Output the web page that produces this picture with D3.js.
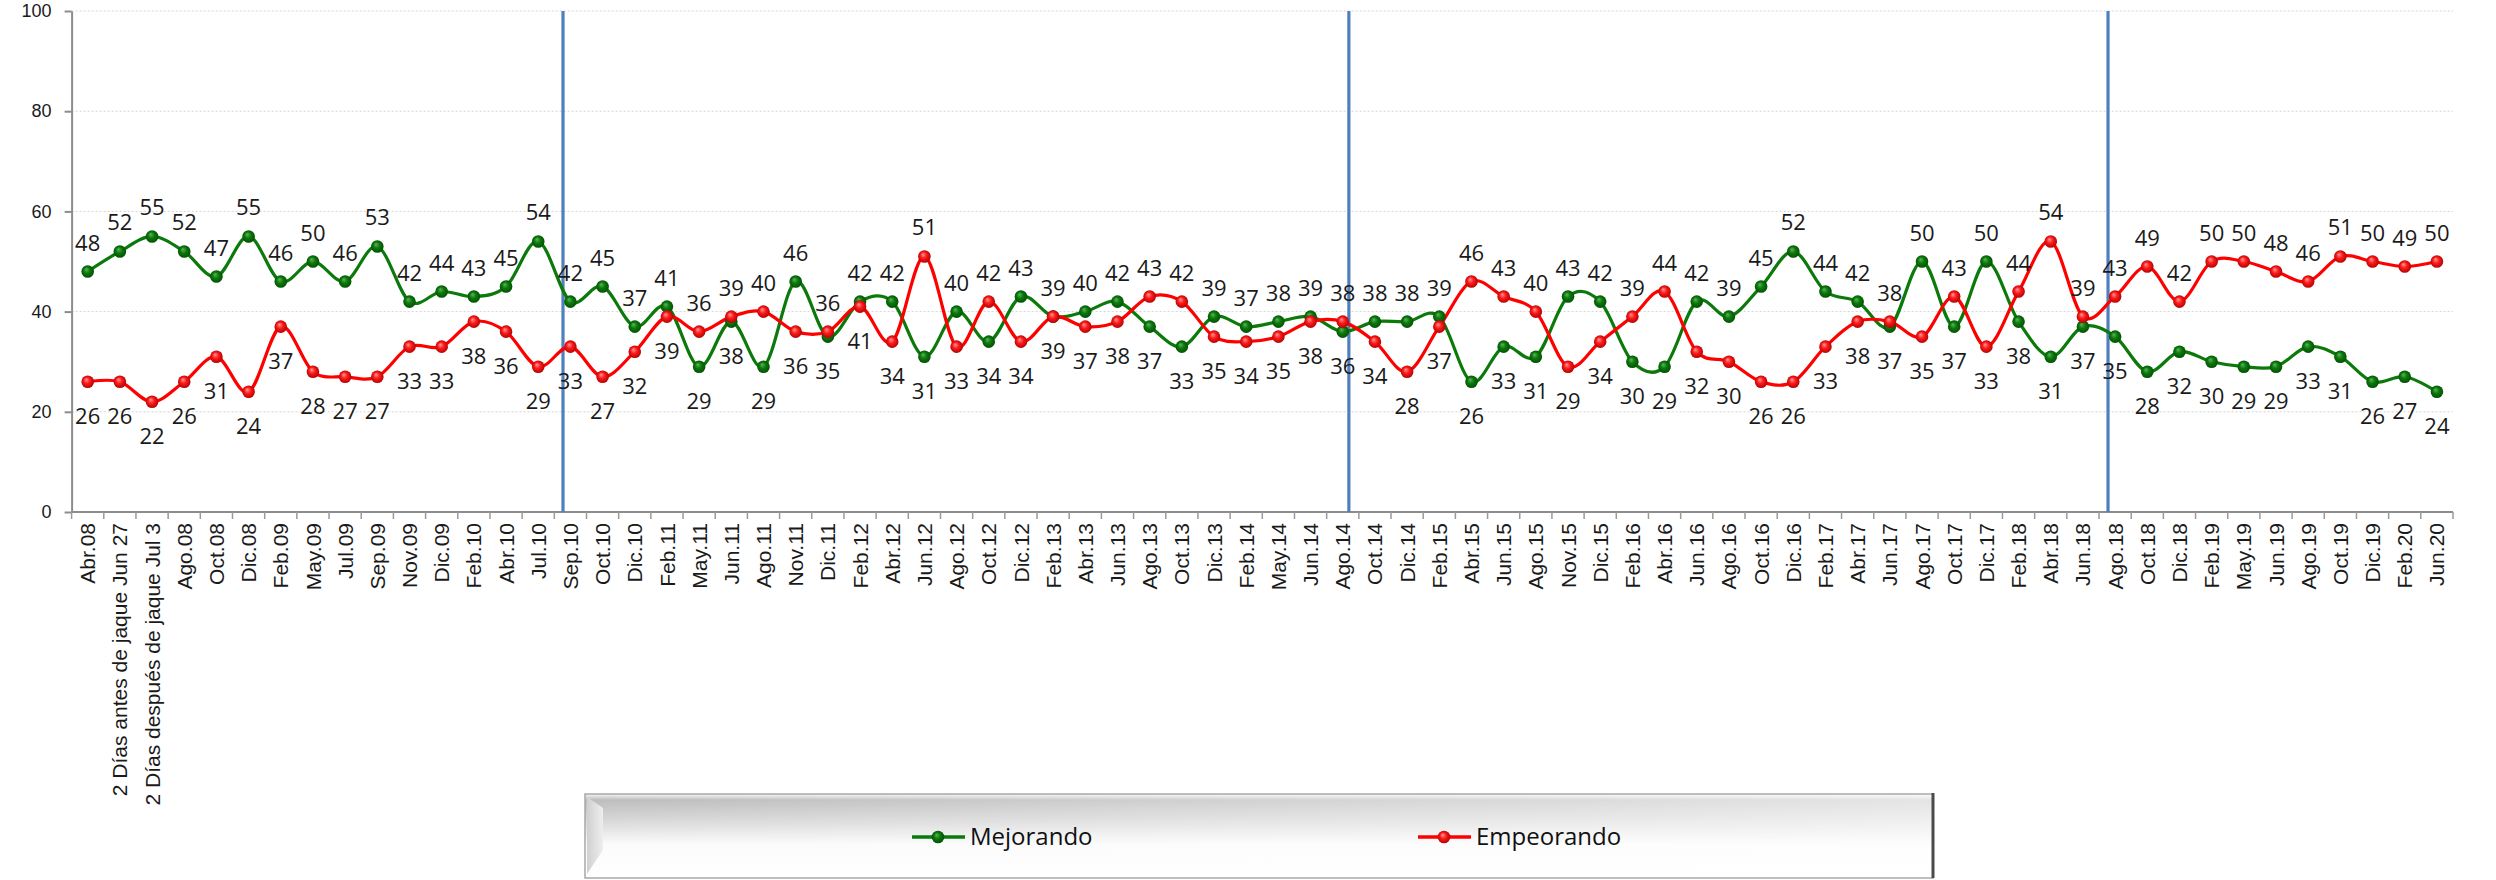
<!DOCTYPE html>
<html>
<head>
<meta charset="utf-8">
<script src="https://cdn.jsdelivr.net/npm/d3@7"></script>
<style>
  body { margin: 0; background: #fff; }
  svg { display: block; font-family: "Open Sans", sans-serif; }
</style>
</head>
<body>
<div id="chart"></div>
<script>
// categories along the x axis
const categories = [
  "Abr.08", "2 Días antes de jaque Jun 27", "2 Días después de jaque Jul 3", "Ago.08", "Oct.08", "Dic.08",
  "Feb.09", "May.09", "Jul.09", "Sep.09", "Nov.09", "Dic.09",
  "Feb.10", "Abr.10", "Jul.10", "Sep.10", "Oct.10", "Dic.10",
  "Feb.11", "May.11", "Jun.11", "Ago.11", "Nov.11", "Dic.11",
  "Feb.12", "Abr.12", "Jun.12", "Ago.12", "Oct.12", "Dic.12",
  "Feb.13", "Abr.13", "Jun.13", "Ago.13", "Oct.13", "Dic.13",
  "Feb.14", "May.14", "Jun.14", "Ago.14", "Oct.14", "Dic.14",
  "Feb.15", "Abr.15", "Jun.15", "Ago.15", "Nov.15", "Dic.15",
  "Feb.16", "Abr.16", "Jun.16", "Ago.16", "Oct.16", "Dic.16",
  "Feb.17", "Abr.17", "Jun.17", "Ago.17", "Oct.17", "Dic.17",
  "Feb.18", "Abr.18", "Jun.18", "Ago.18", "Oct.18", "Dic.18",
  "Feb.19", "May.19", "Jun.19", "Ago.19", "Oct.19", "Dic.19",
  "Feb.20", "Jun.20"
];

const mejorando = [
  48, 52, 55, 52, 47, 55,
  46, 50, 46, 53, 42, 44,
  43, 45, 54, 42, 45, 37,
  41, 29, 38, 29, 46, 35,
  42, 42, 31, 40, 34, 43,
  39, 40, 42, 37, 33, 39,
  37, 38, 39, 36, 38, 38,
  39, 26, 33, 31, 43, 42,
  30, 29, 42, 39, 45, 52,
  44, 42, 37, 50, 37, 50,
  38, 31, 37, 35, 28, 32,
  30, 29, 29, 33, 31, 26,
  27, 24
];

const empeorando = [
  26, 26, 22, 26, 31, 24,
  37, 28, 27, 27, 33, 33,
  38, 36, 29, 33, 27, 32,
  39, 36, 39, 40, 36, 36,
  41, 34, 51, 33, 42, 34,
  39, 37, 38, 43, 42, 35,
  34, 35, 38, 38, 34, 28,
  37, 46, 43, 40, 29, 34,
  39, 44, 32, 30, 26, 26,
  33, 38, 38, 35, 43, 33,
  44, 54, 39, 43, 49, 42,
  50, 50, 48, 46, 51, 50,
  49, 50
];

const yTicks = [0, 20, 40, 60, 80, 100];
const seriesNames = ["Mejorando", "Empeorando"];
// survey rounds where a vertical divider was drawn
const dividerCats = ["Sep.10", "Ago.14", "Ago.18"];

const W = 2496, H = 880;
const plot = { left: 71.6, right: 2453, top: 11, bottom: 512 };
const colors = { Mejorando: "#0b7a0b", Empeorando: "#ff0000" };
// dividers sit a little off the band centre, as in the source
const dividerShift = [-0.23, 0.19, -0.22];
const legendBox = { x: 585, y: 794, w: 1348, h: 84 };

const svg = d3.select("#chart").append("svg")
  .attr("width", W)
  .attr("height", H);

const defs = svg.append("defs");

// shaded ball markers
const balls = [
  { id: "ballGreen", hi: "#5fb35f", mid: "#0b7a0b", lo: "#034a03" },
  { id: "ballRed", hi: "#ff9a9a", mid: "#ff1a1a", lo: "#a80000" }
];
balls.forEach(b => {
  let g = defs.append("radialGradient").attr("id", b.id)
    .attr("cx", "50%").attr("cy", "50%").attr("r", "55%")
    .attr("fx", "38%").attr("fy", "32%");
  g.append("stop").attr("offset", "0%").attr("stop-color", b.hi);
  g.append("stop").attr("offset", "45%").attr("stop-color", b.mid);
  g.append("stop").attr("offset", "100%").attr("stop-color", b.lo);
});

// legend box shading: grey at the top fading down, and lighter towards the right
let lg = defs.append("linearGradient").attr("id", "legendFill")
  .attr("x1", 0).attr("y1", 0).attr("x2", 0).attr("y2", 1);
lg.append("stop").attr("offset", "0%").attr("stop-color", "#f6f6f6");
lg.append("stop").attr("offset", "7%").attr("stop-color", "#bdbdbd");
lg.append("stop").attr("offset", "30%").attr("stop-color", "#d6d6d6");
lg.append("stop").attr("offset", "60%").attr("stop-color", "#fbfbfb");
lg.append("stop").attr("offset", "100%").attr("stop-color", "#ffffff");

let lh = defs.append("linearGradient").attr("id", "legendFade")
  .attr("x1", 0).attr("y1", 0).attr("x2", 1).attr("y2", 0);
lh.append("stop").attr("offset", "0%").attr("stop-color", "#fff").attr("stop-opacity", 0);
lh.append("stop").attr("offset", "55%").attr("stop-color", "#fff").attr("stop-opacity", 0.35);
lh.append("stop").attr("offset", "100%").attr("stop-color", "#fff").attr("stop-opacity", 0.6);

let lb = defs.append("linearGradient").attr("id", "legendBevel")
  .attr("x1", 0).attr("y1", 0).attr("x2", 1).attr("y2", 0);
lb.append("stop").attr("offset", "0%").attr("stop-color", "#d0d0d0");
lb.append("stop").attr("offset", "100%").attr("stop-color", "#eeeeee");

const x = d3.scaleBand()
  .domain(categories)
  .range([plot.left, plot.right])
  .padding(0);

const y = d3.scaleLinear()
  .domain([0, 100])
  .range([plot.bottom, plot.top]);

const cx = c => x(c) + x.bandwidth() / 2;

// gridlines
svg.append("g")
  .selectAll("line")
  .data(yTicks.filter(v => v > 0))
  .join("line")
  .attr("x1", plot.left)
  .attr("x2", plot.right)
  .attr("y1", d => y(d))
  .attr("y2", d => y(d))
  .attr("stroke", "#d4d4d4")
  .attr("stroke-width", 1)
  .attr("stroke-dasharray", "2,2");

// y axis
let yAxis = svg.append("g")
  .attr("transform", `translate(${plot.left},0)`)
  .call(d3.axisLeft(y).tickValues(yTicks).tickSize(7).tickSizeOuter(0).tickPadding(13));
yAxis.select(".domain").attr("stroke", "#8c8c8c").attr("stroke-width", 2);
yAxis.selectAll(".tick line").attr("stroke", "#8c8c8c").attr("stroke-width", 2);
yAxis.selectAll("text")
  .style("font-size", "18px")
  .attr("fill", "#1a1a1a");

// x axis labels
let xAxis = svg.append("g")
  .attr("transform", `translate(0,${plot.bottom})`)
  .call(d3.axisBottom(x).tickSize(0).tickPadding(0));
xAxis.select(".domain").remove();
xAxis.selectAll("text")
  .attr("transform", "rotate(-90)")
  .attr("text-anchor", "end")
  .attr("x", -11)
  .attr("y", 0)
  .attr("dy", "0.36em")
  .style("font-size", "21px")
  .attr("fill", "#1a1a1a");

// x axis line and boundary ticks
svg.append("line")
  .attr("x1", plot.left)
  .attr("x2", plot.right)
  .attr("y1", plot.bottom)
  .attr("y2", plot.bottom)
  .attr("stroke", "#8c8c8c")
  .attr("stroke-width", 2);

svg.append("g")
  .selectAll("line")
  .data(d3.range(categories.length + 1))
  .join("line")
  .attr("x1", i => plot.left + i * x.bandwidth())
  .attr("x2", i => plot.left + i * x.bandwidth())
  .attr("y1", plot.bottom)
  .attr("y2", plot.bottom + 7)
  .attr("stroke", "#9a9a9a")
  .attr("stroke-width", 1.5);

// vertical dividers
svg.append("g")
  .selectAll("line")
  .data(dividerCats)
  .join("line")
  .attr("x1", (c, i) => cx(c) + dividerShift[i] * x.bandwidth())
  .attr("x2", (c, i) => cx(c) + dividerShift[i] * x.bandwidth())
  .attr("y1", y(100))
  .attr("y2", y(0))
  .attr("stroke", "#4f7fbd")
  .attr("stroke-width", 3.2);

const series = [
  { name: "Mejorando", values: mejorando, other: empeorando, fill: "url(#ballGreen)" },
  { name: "Empeorando", values: empeorando, other: mejorando, fill: "url(#ballRed)" }
];

const line = d3.line()
  .x((d, i) => cx(categories[i]))
  .y(d => y(d))
  .curve(d3.curveCardinal.tension(0));

series.forEach(s => {
  svg.append("path")
    .datum(s.values)
    .attr("d", line)
    .attr("fill", "none")
    .attr("stroke", colors[s.name])
    .attr("stroke-width", 3.2);
});

series.forEach(s => {
  svg.append("g")
    .selectAll("circle")
    .data(s.values)
    .join("circle")
    .attr("cx", (d, i) => cx(categories[i]))
    .attr("cy", d => y(d))
    .attr("r", 6.3)
    .attr("fill", s.fill);
});

// data labels: the higher series gets its label above the point
series.forEach(s => {
  let isGreen = s.name === "Mejorando";
  svg.append("g")
    .selectAll("text")
    .data(s.values)
    .join("text")
    .attr("x", (d, i) => cx(categories[i]))
    .attr("y", (d, i) => {
      let above = isGreen ? d >= s.other[i] : d > s.other[i];
      return above ? y(d) - 21 : y(d) + 42;
    })
    .attr("text-anchor", "middle")
    .style("font-size", "22px")
    .attr("fill", "#1a1a1a")
    .text(d => d);
});

// legend
let legend = svg.append("g");
let b = legendBox;
legend.append("rect")
  .attr("x", b.x).attr("y", b.y)
  .attr("width", b.w).attr("height", b.h)
  .attr("fill", "url(#legendFill)");
legend.append("rect")
  .attr("x", b.x).attr("y", b.y)
  .attr("width", b.w).attr("height", b.h)
  .attr("fill", "url(#legendFade)");
// left bevel
legend.append("path")
  .attr("d", `M${b.x + 2},${b.y + 3} L${b.x + 18},${b.y + 14} L${b.x + 18},${b.y + b.h - 28} L${b.x + 2},${b.y + b.h - 4} Z`)
  .attr("fill", "url(#legendBevel)");
legend.append("rect")
  .attr("x", b.x).attr("y", b.y)
  .attr("width", b.w).attr("height", b.h)
  .attr("fill", "none")
  .attr("stroke", "#a8a8a8")
  .attr("stroke-width", 1.5);
legend.append("line")
  .attr("x1", b.x + b.w).attr("x2", b.x + b.w).attr("y1", b.y - 1).attr("y2", b.y + b.h)
  .attr("stroke", "#4a4a4a").attr("stroke-width", 3);

const legendX = [912, 1418];
seriesNames.forEach((name, i) => {
  let item = legend.append("g").attr("transform", `translate(${legendX[i]},837)`);
  item.append("line")
    .attr("x1", 0).attr("x2", 53)
    .attr("stroke", colors[name])
    .attr("stroke-width", 3.5);
  item.append("circle")
    .attr("cx", 26).attr("cy", 0)
    .attr("r", 6.3)
    .attr("fill", series[i].fill);
  item.append("text")
    .attr("x", 58)
    .attr("dy", "0.35em")
    .style("font-size", "24px")
    .attr("fill", "#111")
    .text(name);
});
</script>
</body>
</html>
